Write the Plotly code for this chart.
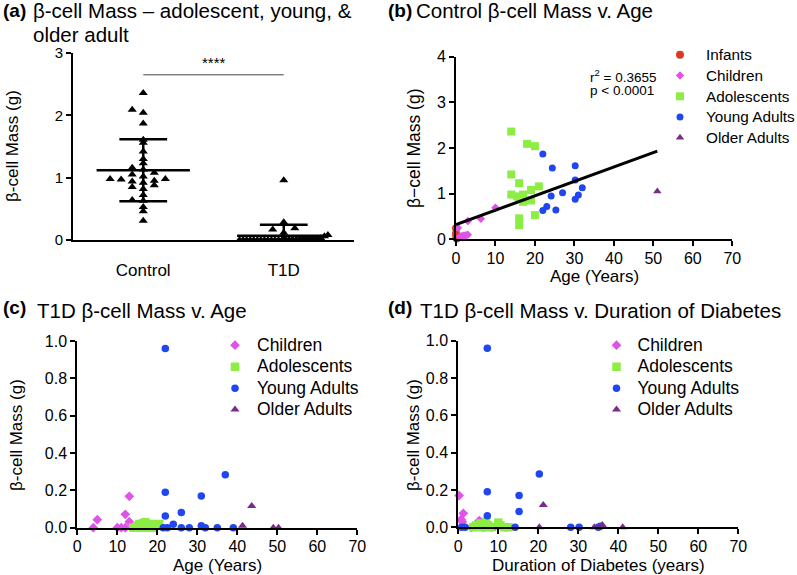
import numpy as np
import plotly.graph_objects as go

W, H = 797, 575

# ---- data: control (panel b), age in years, beta-cell mass in g
inf_age = [0, 0, 0.1, 0.2, 0.1]
inf_mass = [0.24, 0.13, 0.04, 0.02, 0.08]
ch_age = [0.5, 1, 1.5, 2, 2.5, 3, 3, 6.3, 10]
ch_mass = [0.25, 0.06, 0.07, 0.08, 0.09, 0.10, 0.40, 0.45, 0.69]
ad_age = [14, 18, 20, 14, 16, 21, 19, 14, 15.5, 17, 16, 17, 19, 20, 16, 16]
ad_mass = [2.36, 2.09, 2.04, 1.42, 1.23, 1.16, 1.08, 0.98, 0.94, 0.98, 0.92, 0.82, 0.85, 0.53, 0.46, 0.31]
ya_age = [22, 24.4, 30.2, 30.2, 32, 27, 31, 30.2, 24.1, 23, 22, 25.3]
ya_mass = [1.87, 1.56, 1.61, 1.30, 1.13, 1.02, 0.97, 0.88, 0.95, 0.72, 0.63, 0.64]
oa_age = [51]
oa_mass = [1.05]

# ---- data: T1D v. age (panel c)
t_ch_age = [4, 5, 10, 11, 12, 12, 13, 13]
t_ch_mass = [0, 0.043, 0, 0, 0, 0.072, 0.168, 0.032]
t_ad_age = [14, 15, 15.5, 16, 16.5, 17, 17, 18, 18.5, 19, 20, 20.5]
t_ad_mass = [0, 0.01, 0.02, 0, 0.025, 0.03, 0, 0.01, 0.02, 0, 0.015, 0.02]
t_ya_age = [22, 22, 22, 24, 26, 31, 37, 21.5, 22.5, 26, 28, 31, 32, 35, 39]
t_ya_mass = [0.96, 0.19, 0.062, 0.018, 0.082, 0.17, 0.284, 0, 0, 0, 0, 0.01, 0, 0, 0]
t_oa_age = [41.3, 43.6, 49, 50.3]
t_oa_mass = [0.01, 0.116, 0, 0]

# ---- data: T1D v. duration of diabetes (panel d)
d_ch_dur = [0.2, 1.25, 0.7, 1.0, 5.25, 3.3, 6.25, 8.3, 9.2]
d_ch_mass = [0.17, 0.075, 0.043, 0.03, 0.036, 0, 0, 0, 0.005]
d_ad_dur = [3.8, 4.5, 5.5, 6, 7, 7.5, 8, 10, 10.5, 11.5, 12.5]
d_ad_mass = [0, 0.01, 0.02, 0, 0.03, 0.01, 0, 0.025, 0.01, 0, 0]
d_ya_dur = [7.25, 7.25, 7.25, 15.2, 15.2, 20.25, 0.8, 1.7, 14.2, 28.1, 30.2, 35, 35.5]
d_ya_mass = [0.96, 0.19, 0.062, 0.17, 0.085, 0.285, 0, 0, 0, 0, 0, 0, 0.005]
d_oa_dur = [20.25, 21.25, 34, 36, 41.1]
d_oa_mass = [0, 0.12, 0, 0.012, 0]

groups = ["Control", "T1D"]
r2_text = "r<sup>2</sup> = 0.3655"
p_text = "p < 0.0001"

FONT = "Arial, Liberation Sans, sans-serif"
C_INF, C_CH, C_AD, C_YA, C_OA = "#dc3a1e", "#e052e8", "#8cee44", "#2046f0", "#7a2d88"


def px(x):
    return x / W


def py(y):
    return 1 - y / H


def swarm(values, step, bin_size, max_cols=9):
    vals = np.asarray(values, dtype=float)
    order = np.argsort(vals, kind="stable")
    bins = np.floor(vals / bin_size).astype(int)
    off = np.zeros(len(vals))
    for b in np.unique(bins):
        idx = [i for i in order if bins[i] == b]
        n = len(idx)
        if n <= max_cols:
            slots = [0]
            k = 1
            while len(slots) < n:
                slots += [-k, k]
                k += 1
            slots = slots[:n]
        else:
            half = (max_cols - 1) / 2
            slots = list(np.linspace(-half, half, n))
        for i, s in zip(idx, slots):
            off[i] = s * step
    return off


def lname(name, size):
    # legend row height follows the legend font; the shown text is sized here
    return f'<span style="font-size:{size}px">{name}</span>'


fig = go.Figure()

# ---- panel (a): column scatter with mean +/- SD
ctrl = np.array(ad_mass + ya_mass + oa_mass)
t1d = np.array(t_ad_mass + t_ya_mass + t_oa_mass)
for gi, vals in enumerate([ctrl, t1d]):
    fig.add_trace(go.Scatter(
        x=gi + swarm(vals, 0.0786, 0.1), y=vals, mode="markers",
        marker=dict(symbol="triangle-up", size=8, color="black", line=dict(width=0)),
        cliponaxis=False, showlegend=False, xaxis="x", yaxis="y"))
    m, s = vals.mean(), vals.std(ddof=1)
    fig.add_trace(go.Scatter(
        x=[gi - 0.332, gi + 0.332, None, gi - 0.17, gi + 0.17, None,
           gi - 0.17, gi + 0.17, None, gi, gi],
        y=[m, m, None, m + s, m + s, None, m - s, m - s, None, m - s, m + s],
        mode="lines", line=dict(color="black", width=2.5),
        showlegend=False, xaxis="x", yaxis="y"))

# ---- panel (b)
ctrl_series = [("Infants", inf_age, inf_mass, "circle", 8, C_INF),
               ("Children", ch_age, ch_mass, "diamond", 6.5, C_CH),
               ("Adolescents", ad_age, ad_mass, "square", 8, C_AD),
               ("Young Adults", ya_age, ya_mass, "circle", 7, C_YA),
               ("Older Adults", oa_age, oa_mass, "triangle-up", 7.5, C_OA)]
for name, xs, ys, sym, sz, col in ctrl_series:
    fig.add_trace(go.Scatter(
        x=xs, y=ys, mode="markers", name=lname(name, 15.3), legend="legend",
        marker=dict(symbol=sym, size=sz, color=col, line=dict(width=0)),
        cliponaxis=False, xaxis="x2", yaxis="y2"))

all_age = np.array(inf_age + ch_age + ad_age + ya_age + oa_age)
all_mass = np.array(inf_mass + ch_mass + ad_mass + ya_mass + oa_mass)
slope, icpt = np.polyfit(all_age, all_mass, 1)
fx = np.array([0, all_age.max()])
fig.add_trace(go.Scatter(x=fx, y=icpt + slope * fx, mode="lines",
                         line=dict(color="black", width=3),
                         showlegend=False, xaxis="x2", yaxis="y2"))

# ---- panels (c) and (d)
t1d_panels = [
    ("x3", "y3", "legend2", [("Children", t_ch_age, t_ch_mass, "diamond", 7.5, C_CH),
                             ("Adolescents", t_ad_age, t_ad_mass, "square", 8.5, C_AD),
                             ("Young Adults", t_ya_age, t_ya_mass, "circle", 7.5, C_YA),
                             ("Older Adults", t_oa_age, t_oa_mass, "triangle-up", 8, C_OA)]),
    ("x4", "y4", "legend3", [("Children", d_ch_dur, d_ch_mass, "diamond", 7.5, C_CH),
                             ("Adolescents", d_ad_dur, d_ad_mass, "square", 8.5, C_AD),
                             ("Young Adults", d_ya_dur, d_ya_mass, "circle", 7.5, C_YA),
                             ("Older Adults", d_oa_dur, d_oa_mass, "triangle-up", 8, C_OA)]),
]
for xa, ya, lg, series in t1d_panels:
    for name, xs, ys, sym, sz, col in series:
        fig.add_trace(go.Scatter(
            x=xs, y=ys, mode="markers", name=lname(name, 17.5), legend=lg,
            marker=dict(symbol=sym, size=sz, color=col, line=dict(width=0)),
            cliponaxis=False, xaxis=xa, yaxis=ya))


def axis(**kw):
    d = dict(showline=True, linewidth=2, linecolor="black", ticks="outside",
             ticklen=5, tickwidth=2, tickcolor="black", showgrid=False,
             zeroline=False, automargin=False,
             tickfont=dict(size=16, color="black", family=FONT))
    d.update(kw)
    return d


lay = dict(
    width=W, height=H, margin=dict(l=0, r=0, t=0, b=0, autoexpand=False),
    paper_bgcolor="white", plot_bgcolor="rgba(0,0,0,0)",
    font=dict(family=FONT, color="black"),
    xaxis=axis(domain=[px(73), px(354)], range=[-0.5, 1.5], anchor="y",
               tickvals=[0, 1], ticktext=groups, ticks="", ticklabelstandoff=14,
               tickfont=dict(size=17, color="black", family=FONT)),
    yaxis=axis(domain=[py(240), py(53)], range=[0, 3], dtick=1, anchor="x",
               tickfont=dict(size=15, color="black", family=FONT)),
    xaxis2=axis(domain=[px(456), px(732.3)], range=[0, 70], dtick=10, anchor="y2",
                ticklabelstandoff=-2),
    yaxis2=axis(domain=[py(239.3), py(56.7)], range=[0, 4], dtick=1, anchor="x2"),
    xaxis3=axis(domain=[px(77.3), px(357.3)], range=[0, 70], dtick=10, anchor="y3",
                ticklabelstandoff=-2),
    yaxis3=axis(domain=[py(527.7), py(341)], range=[0, 1], dtick=0.2,
                tickformat=".1f", anchor="x3"),
    xaxis4=axis(domain=[px(458.3), px(738.3)], range=[0, 70], dtick=10, anchor="y4",
                ticklabelstandoff=-2),
    yaxis4=axis(domain=[py(527.3), py(340.7)], range=[0, 1], dtick=0.2,
                tickformat=".1f", anchor="x4"),
)
leg = dict(bgcolor="rgba(0,0,0,0)", xanchor="left", yanchor="top", tracegroupgap=0)
lay["legend"] = dict(leg, x=px(654), y=py(39.5), itemwidth=42,
                     font=dict(size=13.6, family=FONT, color="black"))
lay["legend2"] = dict(leg, x=px(213), y=py(329.5), itemwidth=34,
                      font=dict(size=14.2, family=FONT, color="black"))
lay["legend3"] = dict(leg, x=px(595.5), y=py(329.5), itemwidth=32,
                      font=dict(size=14.2, family=FONT, color="black"))
fig.update_layout(**lay)

ann = []


def text(x, y, s, size, xanchor="left", bold=False, angle=0, xref="paper", yref="paper"):
    ann.append(dict(x=x, y=y, xref=xref, yref=yref, text=f"<b>{s}</b>" if bold else s,
                    showarrow=False, xanchor=xanchor, yanchor="middle", textangle=angle,
                    font=dict(size=size, family=FONT, color="black")))


TS = 20.5
text(px(1), py(10), "(a)", 19, bold=True)
text(px(31), py(10), "β-cell Mass – adolescent, young, &", TS)
text(px(31), py(35), "older adult", TS)
text(px(386), py(10), "(b)", 19, bold=True)
text(px(414), py(10), "Control β-cell Mass v. Age", TS)
text(px(1), py(307), "(c)", 19, bold=True)
text(px(35), py(310), "T1D β-cell Mass v. Age", TS)
text(px(386), py(307), "(d)", 19, bold=True)
text(px(418), py(310), "T1D β-cell Mass v. Duration of Diabetes", TS)

text(px(13), py(146), "β-cell Mass (g)", 17, xanchor="center", angle=-90)
text(px(414), py(148), "β−cell Mass (g)", 17.5, xanchor="center", angle=-90)
text(px(16), py(435), "β-cell Mass (g)", 17, xanchor="center", angle=-90)
text(px(413), py(435), "β-cell Mass (g)", 17, xanchor="center", angle=-90)
text(px(594), py(276), "Age (Years)", 17, xanchor="center")
text(px(217), py(565), "Age (Years)", 17, xanchor="center")
text(px(598), py(565), "Duration of Diabetes (years)", 17, xanchor="center")

text(px(588), py(76), r2_text, 13.5)
text(px(588), py(90.5), p_text, 13.5)
text(0.5, 2.84, "****", 15, xanchor="center", xref="x", yref="y")
fig.update_layout(annotations=ann)
fig.add_shape(type="line", xref="x", yref="y", x0=0, x1=1, y0=2.65, y1=2.65,
              line=dict(color="#444444", width=1))

fig.write_html("out.html", config={"displayModeBar": False},
               post_script="document.body.style.margin='0px';")
